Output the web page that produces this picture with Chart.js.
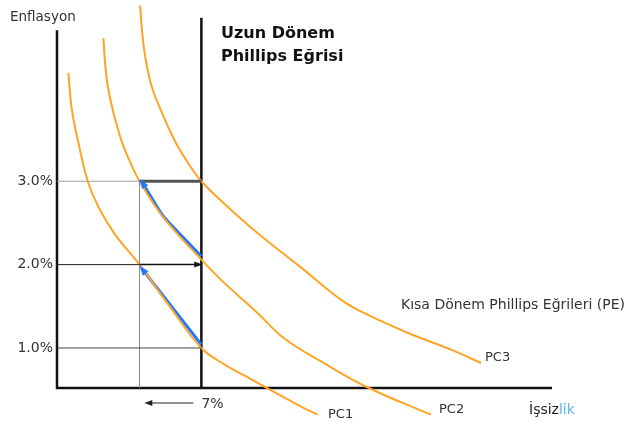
<!DOCTYPE html>
<html lang="tr">
<head>
<meta charset="utf-8">
<title>Uzun Dönem Phillips Eğrisi</title>
<script src="https://cdn.jsdelivr.net/npm/chart.js@4"></script>
<style>
  html, body { margin: 0; padding: 0; background: #fff; }
  #wrap { width: 625px; height: 423px; position: relative; }
</style>
</head>
<body>
<div id="wrap"><canvas id="phillips"></canvas></div>
<script>
// Short-run Phillips curves, [unemployment, inflation]
const pc1 = [[0.55, 4.30], [0.72, 3.86], [1.04, 3.46], [1.49, 3.00], [2.01, 2.69],
  [2.82, 2.36], [4.0, 2.0], [5.49, 1.49], [7.0, 1.0], [8.07, 0.81], [9.38, 0.63],
  [11.81, 0.30], [12.64, 0.20]];
const pc2 = [[2.25, 4.72], [2.33, 4.42], [2.47, 4.13], [2.74, 3.82], [3.15, 3.47],
  [3.55, 3.23], [4.0, 3.0], [5.15, 2.57], [7.0, 2.06], [8.07, 1.79], [9.72, 1.42],
  [10.99, 1.12], [12.93, 0.82], [15.12, 0.52], [18.13, 0.20]];
const pc3 = [[4.03, 5.11], [4.12, 4.81], [4.28, 4.49], [4.6, 4.13], [5.09, 3.82],
  [5.74, 3.47], [6.38, 3.21], [7.0, 3.0], [8.07, 2.74], [9.72, 2.38], [11.81, 1.97],
  [13.76, 1.58], [14.88, 1.42], [17.02, 1.18], [19.11, 0.98], [20.56, 0.82]];

// Movements along the curves (blue) and the expectation shifts (black)
const moveUp1 = [[7.0, 1.04], [4.12, 1.95]];
const moveUp2 = [[7.0, 2.10], [5.15, 2.58], [4.12, 2.99]];
const shiftBack = [[4.0, 2.0], [6.9, 2.0]];
const shiftTop = [[4.0, 3.0], [7.0, 3.0]];
const unempArrow = [[6.61, 0.34], [4.38, 0.34]];

// Axes and long-run curve
const naturalRate = 7;
const axisBase = 0.52;
const axisTop = 4.81;
const lrpcTop = 4.96;
const xAxisEnd = 24;
const yTicks = [1.0, 2.0, 3.0];
const yTickLabels = ['1.0%', '2.0%', '3.0%'];
const lowRate = 4;

const ORANGE = '#ffa424';
const BLUE = '#1e78ff';

const pts = arr => arr.map(([x, y]) => ({ x, y }));

function line(data, color, width, extra = {}) {
    return Object.assign({
        data: pts(data), showLine: true, borderColor: color, borderWidth: width,
        pointRadius: 0, fill: false, tension: 0, clip: false
    }, extra);
}

const guides = [
    line([[0, 3.0], [lowRate, 3.0]], '#a0a0a0', 1),
    line([[0, 2.0], [lowRate, 2.0]], '#222', 1),
    line([[0, 1.0], [naturalRate, 1.0]], '#444', 1),
    line([[lowRate, axisBase], [lowRate, 3.0]], '#888', 1),
    line(shiftTop, '#555', 3),
    line(shiftBack, '#111', 1.5, { arrow: 5 })
];

const curves = [pc1, pc2, pc3].map(c => line(c, ORANGE, 2, { tension: 0.4 }));

const moves = [
    line(moveUp1, BLUE, 3, { arrow: 6 }),
    line(moveUp2, BLUE, 3, { tension: 0.15, arrow: 6 }),
    line(unempArrow, '#222', 1.2, { arrow: 5 })
];

const axes = [
    line([[0, axisTop], [0, axisBase], [xAxisEnd, axisBase]], '#111', 2.5),
    line([[naturalRate, axisBase], [naturalRate, lrpcTop]], '#111', 2.5)
];

// arrowheads at the last point of datasets flagged with "arrow"
const arrowHeads = {
    id: 'arrowHeads',
    afterDatasetsDraw(chart) {
        const ctx = chart.ctx;
        chart.data.datasets.forEach((ds, i) => {
            if (!ds.arrow) return;
            const el = chart.getDatasetMeta(i).data;
            const a = el[el.length - 2], b = el[el.length - 1];
            const ang = Math.atan2(b.y - a.y, b.x - a.x);
            const s = ds.arrow;
            ctx.save();
            ctx.fillStyle = ds.borderColor;
            ctx.translate(b.x, b.y);
            ctx.rotate(ang);
            ctx.beginPath();
            ctx.moveTo(s * 0.6, 0);
            ctx.lineTo(-s, -s * 0.6);
            ctx.lineTo(-s, s * 0.6);
            ctx.closePath();
            ctx.fill();
            ctx.restore();
        });
    }
};

const labels = {
    id: 'labels',
    afterDraw(chart) {
        const { ctx, scales: { x, y } } = chart;
        ctx.save();
        ctx.textBaseline = 'middle';
        ctx.fillStyle = '#333';
        ctx.font = '14px "DejaVu Sans"';

        ctx.textAlign = 'right';
        yTicks.forEach((v, i) => ctx.fillText(yTickLabels[i], x.getPixelForValue(0) - 4, y.getPixelForValue(v)));

        ctx.textAlign = 'left';
        ctx.fillText('7%', x.getPixelForValue(naturalRate), 404);
        ctx.fillText('Kısa Dönem Phillips Eğrileri (PE)', 401, 305);

        const w = ctx.measureText('İşsiz').width;
        ctx.fillStyle = '#222';
        ctx.fillText('İşsiz', 529, 410);
        ctx.fillStyle = '#5bb8e8';
        ctx.fillText('lik', 529 + w, 410);

        ctx.fillStyle = '#333';
        ctx.font = '13.5px "DejaVu Sans"';
        ctx.fillText('Enflasyon', 10, 17);
        ctx.font = '13px "DejaVu Sans"';
        ctx.fillText('PC1', 328, 415);
        ctx.fillText('PC2', 439, 410);
        ctx.fillText('PC3', 485, 358);

        ctx.fillStyle = '#111';
        ctx.font = 'bold 16px "DejaVu Sans"';
        ctx.fillText('Uzun Dönem', 221, 34);
        ctx.fillText('Phillips Eğrisi', 221, 57);
        ctx.restore();
    }
};

new Chart(document.getElementById('phillips'), {
    type: 'scatter',
    data: { datasets: [...guides, ...curves, ...moves, ...axes] },
    options: {
        responsive: true,
        maintainAspectRatio: false,
        animation: false,
        layout: { padding: { left: 57, right: 73, top: 2, bottom: 0 } },
        plugins: { legend: { display: false }, tooltip: { enabled: false } },
        scales: {
            x: { type: 'linear', min: 0, max: xAxisEnd, display: false },
            y: { type: 'linear', min: 0.1, max: 5.15, display: false }
        }
    },
    plugins: [arrowHeads, labels]
});
</script>
</body>
</html>
